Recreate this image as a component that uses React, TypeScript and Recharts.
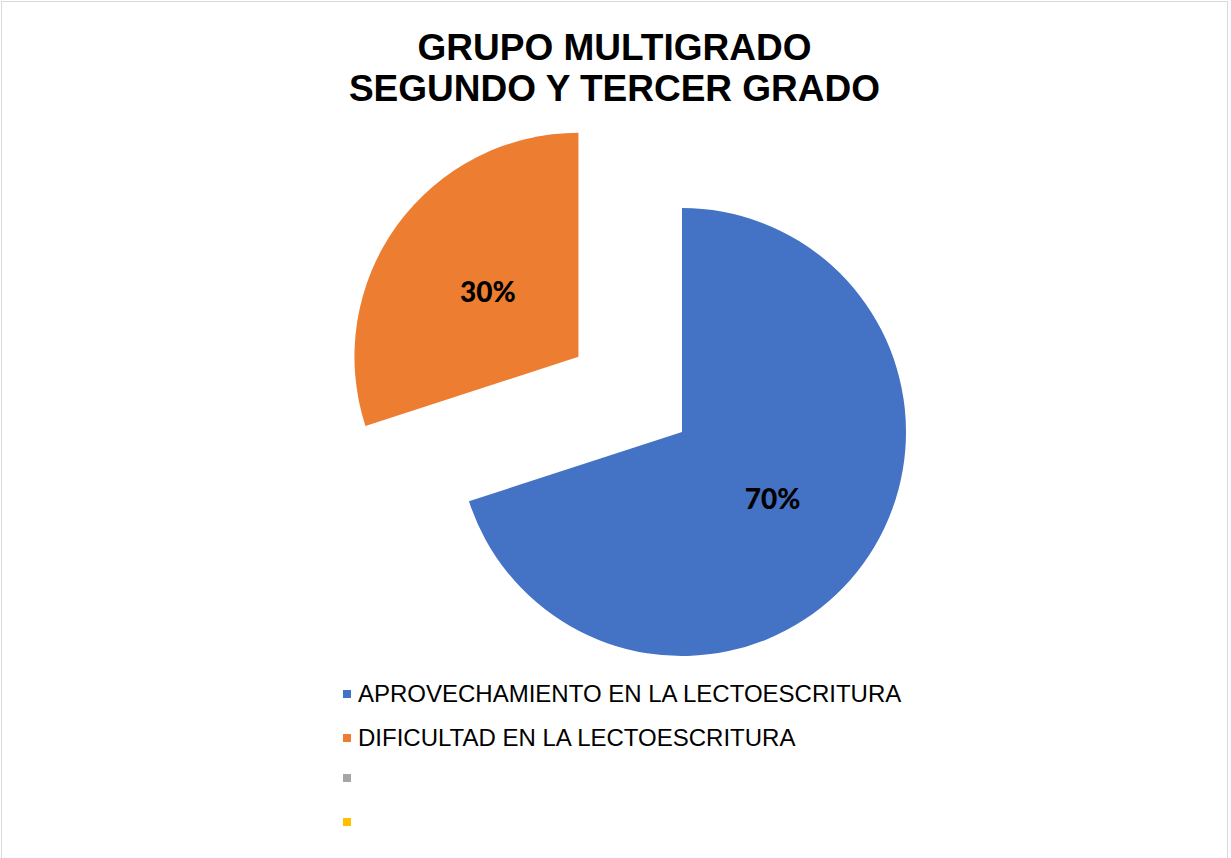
import { PieChart, Pie, Cell, Legend } from "recharts";

// --- data ---
const categories = [
  "APROVECHAMIENTO EN LA LECTOESCRITURA",
  "DIFICULTAD EN LA LECTOESCRITURA",
  "",
  "",
];
const values = [70, 30];
const colors = ["#4472C4", "#ED7D31", "#A5A5A5", "#FFC000"];
const titleLines = ["GRUPO MULTIGRADO", "SEGUNDO Y TERCER GRADO"];

const W = 1231;
const H = 858;
const CX = 682;
const CY = 432;
const R = 224;
const EXPLODE = 128;
const RAD = Math.PI / 180;

const pieData = values.map((v, i) => ({ name: categories[i], value: v }));

// mid angle of the exploded (second) slice, recharts convention
const total = values.reduce((a, b) => a + b, 0);
const startOrange = 90 - (360 * values[0]) / total;
const midOrange = startOrange - (180 * values[1]) / total;
const CX2 = CX + EXPLODE * Math.cos(midOrange * RAD);
const CY2 = CY - EXPLODE * Math.sin(midOrange * RAD);

function makeLabel(show: number) {
  // eslint-disable-next-line @typescript-eslint/no-explicit-any
  return (p: any) => {
    if (p.index !== show) return null;
    const r = p.outerRadius / 2;
    const x = p.cx + r * Math.cos(-p.midAngle * RAD);
    const y = p.cy + r * Math.sin(-p.midAngle * RAD);
    return (
      <text
        x={x}
        y={y}
        textAnchor="middle"
        dominantBaseline="central"
        fill="#000"
        style={{ fontFamily: "Lato, 'Open Sans', sans-serif", fontWeight: 900, fontSize: 28 }}
      >
        {`${Math.round(p.percent * 100)}%`}
      </text>
    );
  };
}

function LegendBox() {
  const rows = [694, 738, 778, 822];
  return (
    <div style={{ position: "relative", width: W, height: H }}>
      {categories.map((c, i) => (
        <div
          key={i}
          style={{
            position: "absolute",
            left: 343,
            top: rows[i] - 12,
            height: 24,
            display: "flex",
            alignItems: "center",
            fontFamily: "'Liberation Sans', Arial, sans-serif",
            fontSize: 24,
            lineHeight: "24px",
            color: "#000",
            whiteSpace: "nowrap",
          }}
        >
          <span style={{ display: "inline-block", width: 8, height: 8, background: colors[i], marginRight: 7 }} />
          <span>{c}</span>
        </div>
      ))}
    </div>
  );
}

export default function App() {
  return (
    <div style={{ position: "fixed", left: 0, top: 0, width: W, height: H, background: "#fff", overflow: "hidden" }}>
      <div
        style={{
          position: "absolute",
          left: 1,
          top: 1,
          width: 1227,
          height: 900,
          border: "1px solid #D9D9D9",
          boxSizing: "border-box",
        }}
      />
      {titleLines.map((t, i) => (
        <div
          key={t}
          style={{
            position: "absolute",
            left: 0,
            width: W - 2,
            top: 27 + i * 41,
            textAlign: "center",
            fontFamily: "'Liberation Sans', Arial, sans-serif",
            fontWeight: 700,
            fontSize: 37,
            lineHeight: "41px",
            color: "#000",
          }}
        >
          {t}
        </div>
      ))}
      <div style={{ position: "absolute", left: 0, top: 0 }}>
        <PieChart width={W} height={H} margin={{ top: 0, right: 0, bottom: 0, left: 0 }}>
          <Pie
            data={pieData}
            dataKey="value"
            cx={CX}
            cy={CY}
            outerRadius={R}
            startAngle={90}
            endAngle={-270}
            stroke="none"
            labelLine={false}
            label={makeLabel(0)}
            isAnimationActive={false}
          >
            {pieData.map((d, i) => (
              <Cell key={d.name} fill={i === 0 ? colors[0] : "transparent"} />
            ))}
          </Pie>
          <Pie
            data={pieData}
            dataKey="value"
            cx={CX2}
            cy={CY2}
            outerRadius={R}
            startAngle={90}
            endAngle={-270}
            stroke="none"
            labelLine={false}
            label={makeLabel(1)}
            isAnimationActive={false}
          >
            {pieData.map((d, i) => (
              <Cell key={d.name} fill={i === 1 ? colors[1] : "transparent"} />
            ))}
          </Pie>
          <Legend content={() => <LegendBox />} wrapperStyle={{ left: 0, top: 0, width: W, height: H }} />
        </PieChart>
      </div>
    </div>
  );
}
